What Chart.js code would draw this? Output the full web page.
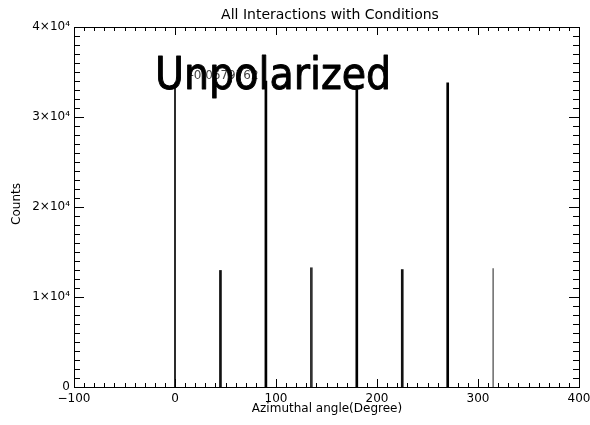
<!DOCTYPE html>
<html>
<head>
<meta charset="utf-8">
<script src="https://cdn.jsdelivr.net/npm/chart.js"></script>
<style>
  body { margin: 0; background: #fff; }
  #wrap { width: 590px; height: 425px; }
</style>
</head>
<body>
<div id="wrap"><canvas id="plot" width="590" height="425"></canvas></div>
<script>
// histogram peaks: azimuthal angle (degree) vs counts
const angles = [0, 45, 90, 135, 180, 225, 270, 315];
const counts = [33800, 12950, 34000, 13250, 33500, 13050, 33800, 13150];
const xTicks = [-100, 0, 100, 200, 300, 400];
const yTicks = [0, 10000, 20000, 30000, 40000];
const noteValue = '-0.0679762';
const noteLabel = 'Unpolarized';

// line look for each peak
const peakWidth = [1, 2, 2, 2, 2, 2, 2, 1];
const peakColor = ['#000', '#111', '#000', '#333', '#000', '#111', '#000', '#777'];

function makeSet(w) {
    const idx = angles.map((a, i) => i).filter(i => peakWidth[i] === w);
    return {
        data: idx.map(i => ({ x: angles[i], y: counts[i] })),
        backgroundColor: idx.map(i => peakColor[i]),
        barThickness: w,
        borderWidth: 0,
        grouped: false
    };
}

// IDL-like box with inward ticks on all four sides, plus the texts
const boxPlugin = {
    id: 'boxPlugin',
    afterDraw(chart) {
        const { ctx, chartArea: a, scales: { x, y } } = chart;
        ctx.save();
        ctx.strokeStyle = '#000';
        ctx.lineWidth = 1;
        ctx.strokeRect(a.left + 0.5, a.top + 0.5, a.right - a.left, a.bottom - a.top);
        ctx.beginPath();
        for (let v = xTicks[0]; v <= xTicks[xTicks.length - 1]; v += 10) {
            const px = Math.round(x.getPixelForValue(v)) + 0.5;
            const len = v % 100 === 0 ? 8 : 4;
            ctx.moveTo(px, a.bottom); ctx.lineTo(px, a.bottom - len);
            ctx.moveTo(px, a.top); ctx.lineTo(px, a.top + len);
        }
        for (let v = yTicks[0]; v <= yTicks[yTicks.length - 1]; v += 1000) {
            const py = Math.round(y.getPixelForValue(v)) + 0.5;
            const len = v % 10000 === 0 ? 10 : 6;
            ctx.moveTo(a.left, py); ctx.lineTo(a.left + len, py);
            ctx.moveTo(a.right, py); ctx.lineTo(a.right - len, py);
        }
        ctx.stroke();

        ctx.fillStyle = '#000';
        ctx.textAlign = 'center';
        ctx.textBaseline = 'middle';
        ctx.font = '14px "DejaVu Sans"';
        ctx.fillText('All Interactions with Conditions', 330, 15);
        ctx.font = '12px "DejaVu Sans"';
        ctx.fillText('Azimuthal angle(Degree)', 327, 409);
        ctx.save();
        ctx.translate(17, 204);
        ctx.rotate(-Math.PI / 2);
        ctx.fillText('Counts', 0, 0);
        ctx.restore();

        // small value note, then the big label on top of it
        ctx.fillStyle = '#444';
        ctx.font = '12px "DejaVu Sans"';
        ctx.fillText(noteValue, 224, 76);

        ctx.fillStyle = '#000';
        ctx.strokeStyle = '#000';
        ctx.lineWidth = 0.9;
        ctx.lineJoin = 'round';
        ctx.textAlign = 'left';
        ctx.textBaseline = 'alphabetic';
        ctx.font = '42px "DejaVu Sans"';
        const w = ctx.measureText(noteLabel).width;
        const size = 42 * 236 / w;
        ctx.font = size.toFixed(1) + 'px "DejaVu Sans"';
        ctx.translate(155, 89);
        ctx.scale(1, 1.1);
        ctx.fillText(noteLabel, 0, 0);
        ctx.strokeText(noteLabel, 0, 0);
        ctx.restore();
    }
};

new Chart(document.getElementById('plot').getContext('2d'), {
    type: 'bar',
    data: {
        datasets: [makeSet(1), makeSet(2)]
    },
    options: {
        responsive: false,
        animation: false,
        layout: { padding: { top: 27, right: 11, left: 0, bottom: 0 } },
        plugins: {
            legend: { display: false },
            tooltip: { enabled: false },
            title: { display: false }
        },
        scales: {
            x: {
                type: 'linear',
                min: xTicks[0],
                max: xTicks[xTicks.length - 1],
                offset: false,
                grid: { display: false, drawTicks: false },
                border: { display: false },
                afterFit: s => { s.height = 38; s.paddingLeft = 0; s.paddingRight = 0; },
                afterBuildTicks: s => { s.ticks = xTicks.map(v => ({ value: v })); },
                ticks: {
                    maxRotation: 0,
                    padding: 5,
                    color: '#000',
                    font: { family: 'DejaVu Sans', size: 12 },
                    callback: v => v < 0 ? '\u2212' + Math.abs(v) : String(v)
                }
            },
            y: {
                min: yTicks[0],
                max: yTicks[yTicks.length - 1],
                grid: { display: false, drawTicks: false },
                border: { display: false },
                afterFit: s => { s.width = 74; s.paddingTop = 0; s.paddingBottom = 0; },
                afterBuildTicks: s => { s.ticks = yTicks.map(v => ({ value: v })); },
                ticks: {
                    padding: 4,
                    color: '#000',
                    font: { family: 'DejaVu Sans', size: 12 },
                    callback: v => v === 0 ? '0' : (v / 10000) + '\u00d710\u2074'
                }
            }
        }
    },
    plugins: [boxPlugin]
});
</script>
</body>
</html>
